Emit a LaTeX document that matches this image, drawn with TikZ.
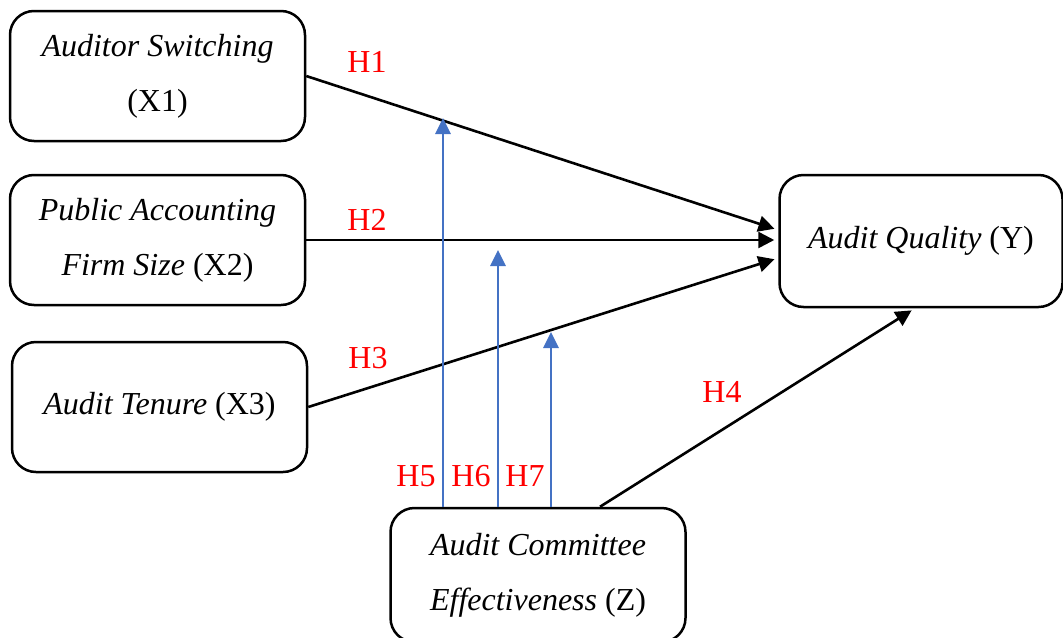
\documentclass[tikz,border=0pt]{standalone}
\usepackage{fontspec}
\setmainfont{Liberation Serif}
\usetikzlibrary{calc,arrows.meta}
\definecolor{modblue}{RGB}{68,114,196}

\begin{document}
\begin{tikzpicture}[x=0.5pt,y=-0.5pt,
  box/.style={draw, line width=1.25pt, rounded corners=12pt,
    minimum width=147.5pt, minimum height=65pt, align=center,
    font=\fontsize{16}{27.5}\selectfont},
  hyp/.style={text=red, font=\fontsize{16}{19}\selectfont},
  link/.style={line width=1.3pt, shorten >=2pt,
    -{Triangle[length=8pt,width=8pt]}},
  moder/.style={draw=modblue, line width=1.4pt,
    -{Triangle[length=8pt,width=7.5pt]}}]
\useasboundingbox (0,0) rectangle (1063,637);

% Boxes for the variables
\node[box] (x1) at (157.5,76) {\textit{Auditor Switching}\\(X1)};
\node[box] (x2) at (157.5,240) {\textit{Public Accounting}\\\textit{Firm Size} (X2)};
\node[box] (x3) at (159.5,407) {\textit{Audit Tenure} (X3)};
\node[box, minimum width=141.5pt, minimum height=66pt] (y) at (921,241)
  {\textit{Audit Quality} (Y)};
\node[box, minimum height=67pt] (z) at (538,575) {\textit{Audit Committee}\\\textit{Effectiveness} (Z)};

% Direct effects on Y
\draw[link] (x1.east) -- ($(y.west)+(0,-11)$);
\draw[link] (x2.east) -- (x2.east -| y.west);
\draw[link] (x3.east) -- ($(y.west)+(0,17)$);
\draw[link] ($(z.north)+(62,0)$) -- ($(y.south)+(-6,0)$);

% Tips of the moderating arrows
\coordinate (t5) at (443,118);
\coordinate (t6) at (498,250);
\coordinate (t7) at (551,332);

% Moderating effects of Z
\draw[moder] (z.north -| t5) -- (t5);
\draw[moder] (z.north -| t6) -- (t6);
\draw[moder] (z.north -| t7) -- (t7);

% Hypothesis labels
\node[hyp] (h1) at (367,62) {H1};
\node[hyp] (h2) at (367,220) {H2};
\node[hyp] (h3) at (368,358) {H3};
\node[hyp] (h4) at (722,392) {H4};
\node[hyp] (h5) at (416,476) {H5};
\node[hyp] (h6) at (471,476) {H6};
\node[hyp] (h7) at (525,476) {H7};

\end{tikzpicture}
\end{document}
